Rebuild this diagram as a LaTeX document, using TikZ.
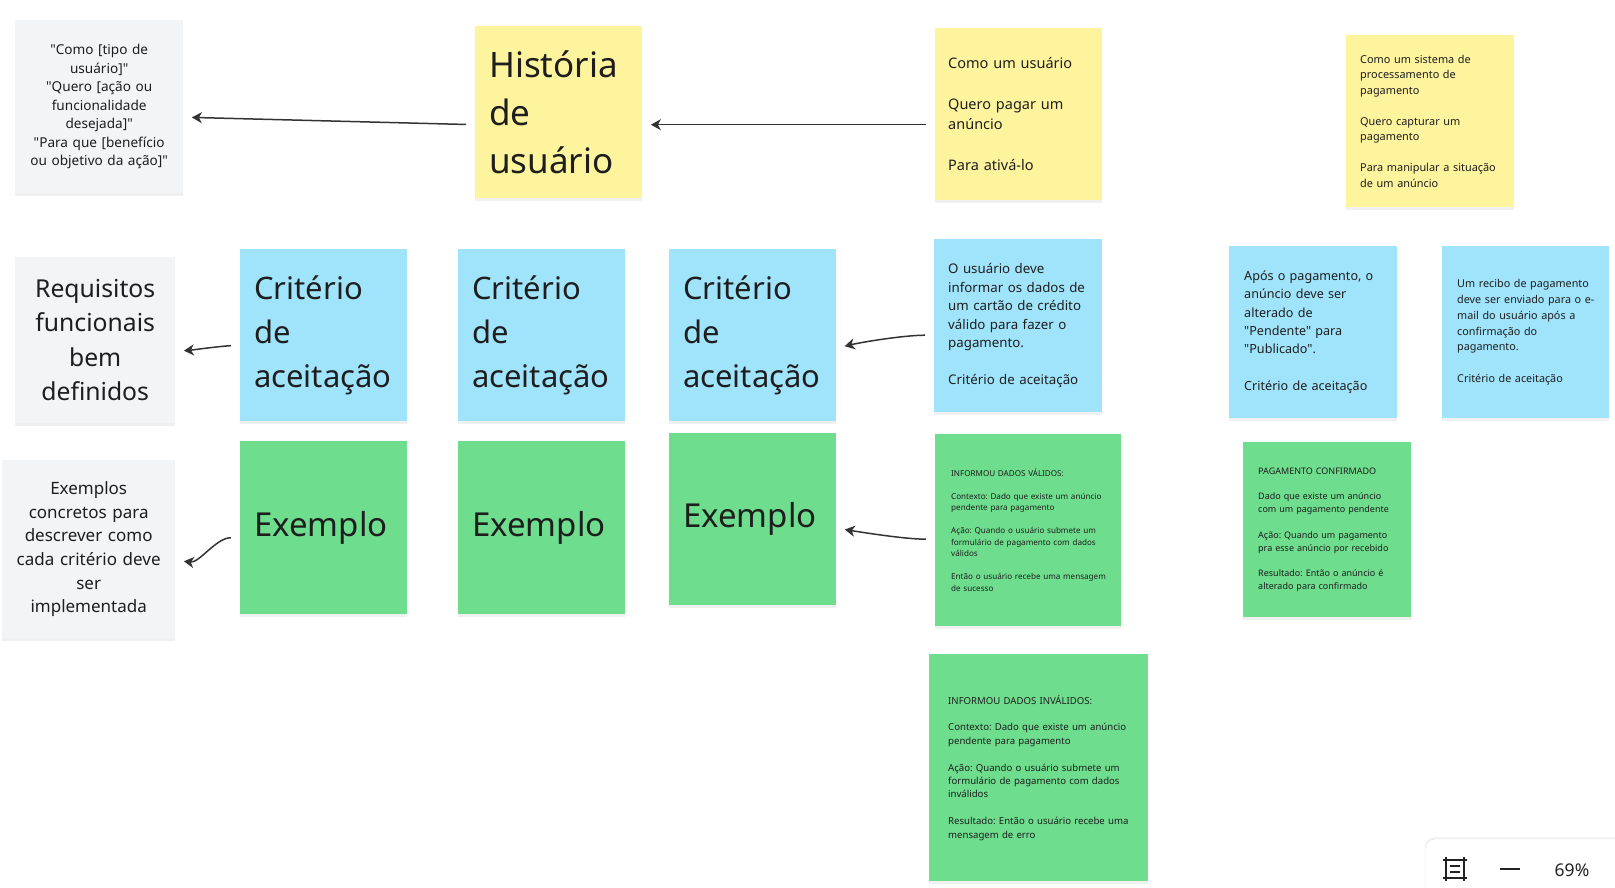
\documentclass[tikz,border=0pt]{standalone}
\usepackage{fontspec}
\setmainfont{Noto Sans}[Ligatures=TeXOff]
\usetikzlibrary{arrows.meta,shadows}
\frenchspacing

\begin{document}
\begin{tikzpicture}[x=1pt, y=-1pt,
    sticky/.style={anchor=north west, inner sep=0pt, text=textColour,
        minimum width=167pt, minimum height=172pt, text width=139pt,
        drop shadow={shadow xshift=0pt, shadow yshift=-3pt, opacity=0.06, fill=black}},
    note/.style={sticky, align=left,
        execute at begin node={\rightskip=0pt plus 1fil minus 80pt\relax}},
    greyNoteBox/.style={sticky, fill=greyNote, align=center},
    bigText/.style={font=\fontsize{31pt}{44pt}\selectfont},
    arrow/.style={draw=arrowColour, line width=1.5pt, shorten <=9pt, shorten >=8.5pt,
        -{Stealth[length=10pt, width=11pt, inset=3pt]}},
    iconLine/.style={draw=iconColour, line width=2.5pt}]
    \def\gap{\\[\baselineskip]}

    \definecolor{yellowNote}{HTML}{FFF49E}
    \definecolor{blueNote}{HTML}{A0E4FB}
    \definecolor{greenNote}{HTML}{6EDD8D}
    \definecolor{greyNote}{HTML}{F3F4F6}
    \definecolor{textColour}{HTML}{1E1E1E}
    \definecolor{arrowColour}{HTML}{333333}
    \definecolor{iconColour}{HTML}{222222}

    \useasboundingbox (0,0) rectangle (1615,887);

    % User story template
    \node[greyNoteBox, minimum width=168pt, minimum height=173pt, text width=160pt,
        font=\fontsize{13.6pt}{18.5pt}\selectfont] (qfmt) at (15,20)
        {"Como [tipo de\\usuário]"\\"Quero [ação ou\\funcionalidade\\desejada]"\\"Para que [benefício\\ou objetivo da ação]"};
    \node[note, fill=yellowNote, font=\fontsize{35pt}{48pt}\selectfont] (hist) at (475,26)
        {História\\de\\usuário};
    \node[note, fill=yellowNote, text width=141pt, font=\fontsize{14.5pt}{20.4pt}\selectfont] (usr) at (935,28)
        {Como um usuário\gap Quero pagar um\\anúncio\gap Para ativá-lo};
    \node[note, fill=yellowNote, minimum width=168pt, text width=140pt,
        font=\fontsize{10.9pt}{15.5pt}\selectfont] (sys) at (1346,35)
        {Como um sistema de\\processamento de\\pagamento\gap Quero capturar um\\pagamento\gap Para manipular a situação\\de um anúncio};

    % Acceptance criteria
    \node[greyNoteBox, minimum width=160pt, minimum height=166pt, text width=150pt,
        font=\fontsize{24.7pt}{34.5pt}\selectfont] (req) at (15,257)
        {Requisitos\\funcionais\\bem\\definidos};
    \node[note, fill=blueNote, bigText] (crit1) at (240,249) {Critério\\de\\aceitação};
    \node[note, fill=blueNote, bigText] (crit2) at (458,249) {Critério\\de\\aceitação};
    \node[note, fill=blueNote, bigText] (crit3) at (669,249) {Critério\\de\\aceitação};
    \node[note, fill=blueNote, minimum width=168pt, minimum height=173pt, text width=140pt,
        font=\fontsize{13.3pt}{18.5pt}\selectfont] (ac1) at (934,239)
        {O usuário deve\\informar os dados de\\um cartão de crédito\\válido para fazer o\\pagamento.\gap Critério de aceitação};
    \node[note, fill=blueNote, minimum width=168pt, text width=138pt,
        font=\fontsize{12.6pt}{18.3pt}\selectfont] (ac2) at (1229,246)
        {Após o pagamento, o\\anúncio deve ser\\alterado de\\"Pendente" para\\"Publicado".\gap Critério de aceitação};
    \node[note, fill=blueNote, text width=137pt,
        font=\fontsize{10.8pt}{15.7pt}\selectfont] (ac3) at (1442,246)
        {Um recibo de pagamento\\deve ser enviado para o e-\\mail do usuário após a\\confirmação do\\pagamento.\gap Critério de aceitação};

    % Examples
    \node[greyNoteBox, minimum width=173pt, minimum height=178pt, text width=165pt,
        font=\fontsize{17pt}{23.7pt}\selectfont] (exs) at (2,460)
        {Exemplos\\concretos para\\descrever como\\cada critério deve\\ser\\implementada};
    \node[note, fill=greenNote, minimum height=173pt, font=\fontsize{33pt}{44pt}\selectfont] (ex1) at (240,441) {Exemplo};
    \node[note, fill=greenNote, minimum height=173pt, font=\fontsize{33pt}{44pt}\selectfont] (ex2) at (458,441) {Exemplo};
    \node[note, fill=greenNote, font=\fontsize{33pt}{44pt}\selectfont] (ex3) at (669,433) {Exemplo};
    \node[note, fill=greenNote, minimum width=186pt, minimum height=192pt, text width=154pt,
        font=\fontsize{8.1pt}{11.5pt}\selectfont] (val) at (935,434)
        {INFORMOU DADOS VÁLIDOS:\gap Contexto: Dado que existe um anúncio\\pendente para pagamento\gap Ação: Quando o usuário submete um\\formulário de pagamento com dados\\válidos\gap Então o usuário recebe uma mensagem\\de sucesso};
    \node[note, fill=greenNote, minimum width=168pt, minimum height=175pt, text width=138pt,
        font=\fontsize{9pt}{12.8pt}\selectfont] (conf) at (1243,442)
        {PAGAMENTO CONFIRMADO\gap Dado que existe um anúncio\\com um pagamento pendente\gap Ação: Quando um pagamento\\pra esse anúncio por recebido\gap Resultado: Então o anúncio é\\alterado para confirmado};
    \node[note, fill=greenNote, minimum width=219pt, minimum height=227pt, text width=181pt,
        font=\fontsize{9.6pt}{13.4pt}\selectfont] (inv) at (929,654)
        {INFORMOU DADOS INVÁLIDOS:\gap Contexto: Dado que existe um anúncio\\pendente para pagamento\gap Ação: Quando o usuário submete um\\formulário de pagamento com dados\\inválidos\gap Resultado: Então o usuário recebe uma\\mensagem de erro};

    % Arrows
    \draw[arrow] ([yshift=-12.5pt]hist.west) -- ([yshift=-10.5pt]qfmt.east);
    \draw[arrow] ([yshift=-10.5pt]usr.west) -- ([yshift=-12.5pt]hist.east);
    \draw[arrow] ([yshift=-10pt]crit1.west) .. controls +(-20,1) and +(15,-1) .. ([yshift=-11pt]req.east);
    \draw[arrow] ([yshift=-10pt]ex1.west) .. controls +(-24,0) and +(24,3) .. ([yshift=-11pt]exs.east);
    \draw[arrow] ([yshift=-9.5pt]ac1.west) .. controls +(-30,0) and +(25,-6) .. ([yshift=-13pt]crit3.east);
    \draw[arrow] ([yshift=-9pt]val.west) .. controls +(-30,0) and +(25,4) .. ([yshift=-9pt]ex3.east);

    % Zoom control
    \draw[draw=black!12, fill=white, rounded corners=10pt,
        drop shadow={shadow xshift=0pt, shadow yshift=2pt, opacity=0.04, fill=black}]
        (1425,839) rectangle (1660,920);
    \draw[iconLine] (1443,860) -- (1467,860) (1443,878) -- (1467,878)
        (1446,857) -- (1446,881) (1464,857) -- (1464,881);
    \draw[iconLine] (1450,866) -- (1460,866) (1450,872) -- (1460,872);
    \draw[iconLine] (1500,869) -- (1520,869);
    \node[text=iconColour, font=\fontsize{17.5pt}{20pt}\selectfont] (zoomLevel) at (1572,870) {69\%};
\end{tikzpicture}
\end{document}
